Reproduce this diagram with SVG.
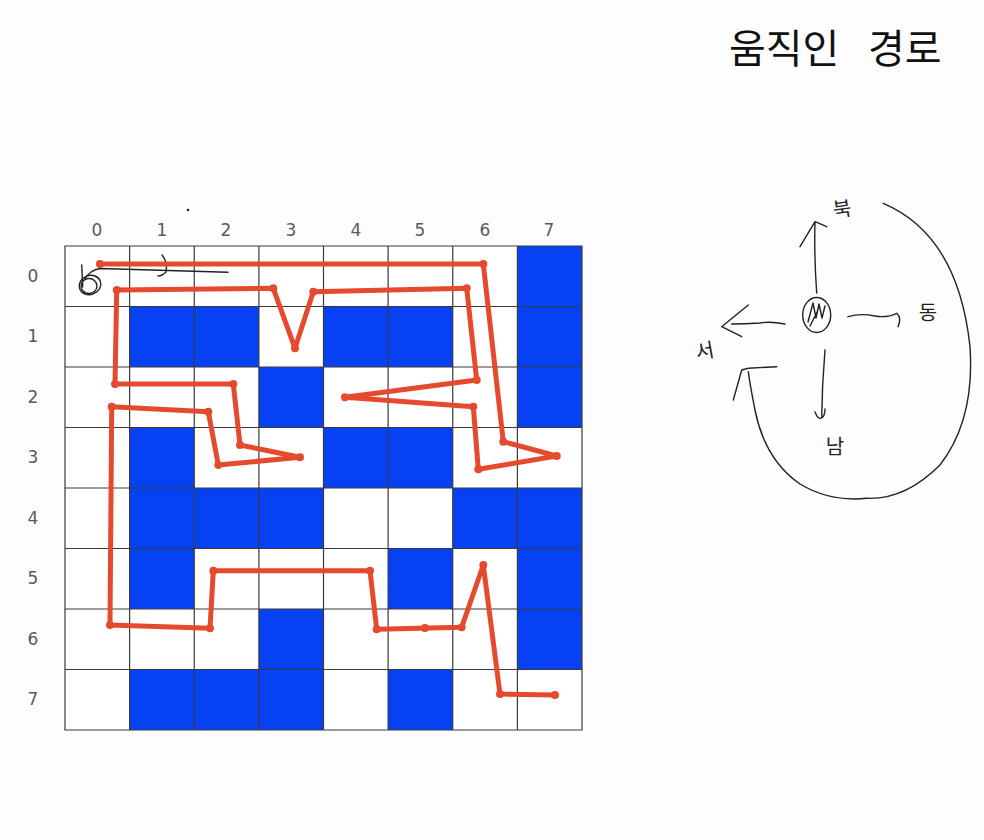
<svg xmlns="http://www.w3.org/2000/svg" width="984" height="840" viewBox="0 0 984 840">
<style>
.cell{fill:#0642F4}
.grid{stroke:#3a3a3a;stroke-width:1.2;fill:none}
.lbl{font-family:"DejaVu Sans","Noto Sans",sans-serif;font-size:17px;fill:#5a5a5a;text-anchor:middle}
.route{fill:none;stroke:#E64A2E;stroke-width:5;stroke-linejoin:round;stroke-linecap:round}
.dot{fill:#E64A2E}
.ink{fill:none;stroke:#222;stroke-width:1.4;stroke-linecap:round;stroke-linejoin:round}
.hand{font-family:"Noto Sans CJK KR",sans-serif;font-size:20px;fill:#222;text-anchor:middle}
.title{font-family:"Noto Sans CJK KR","Noto Sans",sans-serif;font-size:40px;fill:#111}
</style>
<rect width="984" height="840" fill="#fdfdfe"/>
<text class="title" x="729" y="63">움직인</text>
<text class="title" x="868" y="63">경로</text>
<g id="grid">
<rect x="65" y="246" width="517" height="484" fill="#fff"/>
<g id="blocked">
<rect class="cell" x="517.4" y="246" width="64.6" height="60.5"/>
<rect class="cell" x="129.6" y="306.5" width="129.3" height="60.5"/>
<rect class="cell" x="323.5" y="306.5" width="129.25" height="60.5"/>
<rect class="cell" x="517.4" y="306.5" width="64.6" height="121"/>
<rect class="cell" x="258.9" y="367" width="64.6" height="60.5"/>
<rect class="cell" x="129.6" y="427.5" width="64.65" height="181.5"/>
<rect class="cell" x="323.5" y="427.5" width="129.25" height="60.5"/>
<rect class="cell" x="194.25" y="488" width="129.25" height="60.5"/>
<rect class="cell" x="452.75" y="488" width="129.25" height="60.5"/>
<rect class="cell" x="388.1" y="548.5" width="64.65" height="60.5"/>
<rect class="cell" x="517.4" y="548.5" width="64.6" height="121"/>
<rect class="cell" x="258.9" y="609" width="64.6" height="60.5"/>
<rect class="cell" x="129.6" y="669.5" width="193.9" height="60.5"/>
<rect class="cell" x="388.1" y="669.5" width="64.65" height="60.5"/>
</g>
<path class="grid" d="M65 246H582V730H65Z M129.6 246V730 M194.25 246V730 M258.9 246V730 M323.5 246V730 M388.1 246V730 M452.75 246V730 M517.4 246V730 M65 306.5H582 M65 367H582 M65 427.5H582 M65 488H582 M65 548.5H582 M65 609H582 M65 669.5H582"/>
</g>
<g id="col-labels">
<text class="lbl" x="97" y="236">0</text>
<text class="lbl" x="162" y="236">1</text>
<text class="lbl" x="226" y="236">2</text>
<text class="lbl" x="291" y="236">3</text>
<text class="lbl" x="356" y="236">4</text>
<text class="lbl" x="420" y="236">5</text>
<text class="lbl" x="485" y="236">6</text>
<text class="lbl" x="549" y="236">7</text>
</g>
<g id="row-labels">
<text class="lbl" x="33" y="282">0</text>
<text class="lbl" x="33" y="342">1</text>
<text class="lbl" x="33" y="403">2</text>
<text class="lbl" x="33" y="463">3</text>
<text class="lbl" x="33" y="524">4</text>
<text class="lbl" x="33" y="584">5</text>
<text class="lbl" x="33" y="645">6</text>
<text class="lbl" x="33" y="705">7</text>
</g>
<g id="sketch-start">
<ellipse class="ink" cx="90" cy="285" rx="11" ry="9.5" transform="rotate(-20 90 285)"/>
<ellipse class="ink" cx="89" cy="286" rx="8" ry="7.5"/>
<path class="ink" d="M81.7 265 L82.7 287 M84 280 Q90 270 100 268.5 L228 272.3"/>
<path class="ink" d="M162 255 Q168 262 166 272 Q162 276 158 276"/>
<circle cx="188" cy="210" r="1.3" fill="#222"/>
</g>
<g id="route">
<path class="route" d="M100 264 L483.3 264 L503.3 441.7 L556.7 456 L478.3 469.3 L473.3 406.7 L345 397.3 L476.7 380 L466.7 288.3 L313.3 291.7 L295 348.3 L273.3 288.3 L116.7 290 L115 384 L233.3 384 L240 445 L300 457.3 L218.3 465 L208.3 411.7 L111.7 406.7 L110 625 L210 628.3 L213.3 570.7 L370 570.7 L376.7 629.3 L461.7 627.3 L483.3 565 L500 694 L555 695"/>
<g class="dot">
<circle cx="100" cy="264" r="4"/><circle cx="483.3" cy="264" r="4"/><circle cx="503.3" cy="441.7" r="4"/><circle cx="556.7" cy="456" r="4"/><circle cx="478.3" cy="469.3" r="4"/><circle cx="473.3" cy="406.7" r="4"/><circle cx="345" cy="397.3" r="4"/><circle cx="476.7" cy="380" r="4"/><circle cx="466.7" cy="288.3" r="4"/><circle cx="313.3" cy="291.7" r="4"/><circle cx="295" cy="348.3" r="4"/><circle cx="273.3" cy="288.3" r="4"/><circle cx="116.7" cy="290" r="4"/><circle cx="115" cy="384" r="4"/><circle cx="233.3" cy="384" r="4"/><circle cx="240" cy="445" r="4"/><circle cx="300" cy="457.3" r="4"/><circle cx="218.3" cy="465" r="4"/><circle cx="208.3" cy="411.7" r="4"/><circle cx="111.7" cy="406.7" r="4"/><circle cx="110" cy="625" r="4"/><circle cx="210" cy="628.3" r="4"/><circle cx="213.3" cy="570.7" r="4"/><circle cx="370" cy="570.7" r="4"/><circle cx="376.7" cy="629.3" r="4"/><circle cx="425" cy="628" r="4"/><circle cx="461.7" cy="627.3" r="4"/><circle cx="483.3" cy="565" r="4"/><circle cx="500" cy="694" r="4"/><circle cx="555" cy="695" r="4"/>
</g>
</g>
<g id="compass">
<ellipse class="ink" cx="816.7" cy="315" rx="14" ry="17.5"/>
<path class="ink" d="M808 322 L813 303 L816 318 L819 304 L822 318 L825 306 M810 326 L818 310"/>
<path class="ink" d="M816.7 293 Q814 255 815 221.7 M800 246.7 L815 221.7 L826.7 226.7"/>
<path class="ink" d="M785 324 Q770 321 760 323 Q745 324 731.7 324 M748.3 305 L721.7 326.7 L741.7 336.7"/>
<path class="ink" d="M848 316.7 Q860 313 875 316 Q887 318 896.7 313.3 Q902 318 898 326.7"/>
<path class="ink" d="M825 350 Q822 385 821.7 418 Q818 420 815 412 M821.7 418 Q825 416 825 409"/>
<path class="ink" d="M883.3 203.3 Q958 235 970 346.7 Q975 420 940 465 Q905 500 866.7 498.3 Q830 502 800 484 Q765 460 755 410 Q750 385 748.3 371.7 M733.3 400 L741.7 370 L748.3 368.3 L776.7 366.7"/>
<text class="hand" x="843" y="216" transform="rotate(-8 843 216)">북</text>
<text class="hand" x="928" y="320" font-size="18">동</text>
<text class="hand" x="835" y="454">남</text>
<text class="hand" x="706" y="358" transform="rotate(-10 706 358)">서</text>
</g>
</svg>
